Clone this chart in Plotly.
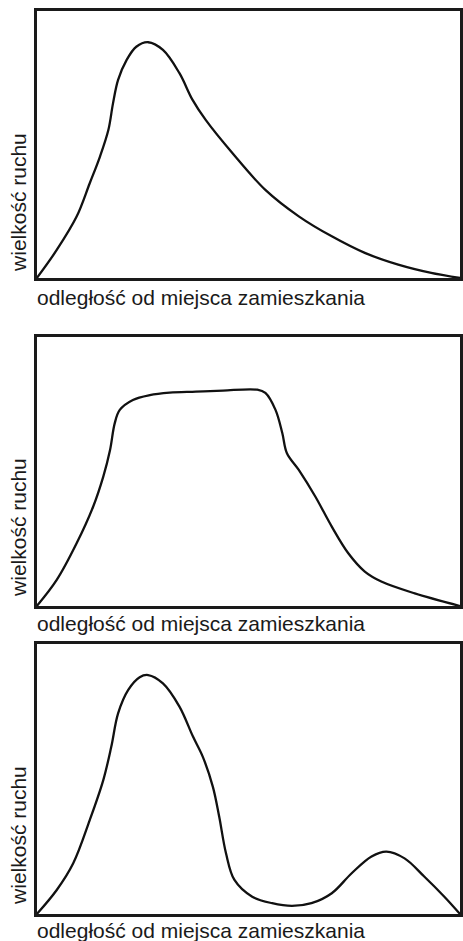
import plotly.graph_objects as go

# Panel 1: single peak with long tail
x1 = [0, 4.7, 9.4, 12.5, 14.9, 16.9, 18.0, 19.2, 21.2, 23.5, 26.3, 29.8, 33.7, 36.8, 39.9, 46.2, 54.0, 61.9, 69.7, 77.5, 85.4, 93.2, 100]
y1 = [0, 10.5, 23.0, 35.5, 45.4, 55.4, 65.4, 74.2, 81.6, 86.6, 88.3, 85.4, 76.7, 66.7, 59.2, 46.8, 33.0, 23.1, 15.6, 9.4, 5.0, 1.9, 0]

# Panel 2: plateau
x2 = [0, 4.7, 9.4, 13.3, 15.7, 17.3, 18.4, 19.6, 22.7, 26.7, 31.4, 37.6, 44.0, 52.1, 54.0, 56.4, 58.0, 59.1, 61.9, 65.8, 69.7, 73.6, 77.5, 81.4, 89.3, 100]
y2 = [0, 9.7, 23.3, 36.9, 48.1, 58.0, 67.9, 72.9, 76.6, 78.4, 79.3, 79.7, 80.1, 80.4, 79.2, 72.9, 64.3, 56.8, 50.6, 40.7, 29.5, 19.6, 12.8, 9.1, 4.7, 0]

# Panel 3: two peaks
x3 = [0, 4.7, 8.6, 12.5, 15.7, 17.6, 19.2, 21.6, 24.3, 26.3, 29.8, 33.7, 36.9, 39.2, 41.6, 43.1, 44.7, 46.7, 50.9, 55.6, 60.3, 64.9, 69.7, 74.4, 79.1, 82.6, 86.9, 91.6, 96.3, 100]
y3 = [0, 8.9, 18.8, 34.8, 49.6, 62.0, 74.3, 83.0, 87.7, 88.5, 85.4, 76.8, 65.7, 58.3, 47.1, 36.0, 22.5, 12.6, 6.4, 4.0, 3.0, 4.0, 7.7, 15.1, 21.3, 23.1, 20.6, 13.8, 6.4, 0]

x_title = "odległość od miejsca zamieszkania"
y_title = "wielkość ruchu"

W, H = 463, 941
panels = [
    (x1, y1, 11, 278, 202, 297),
    (x2, y2, 337, 606, 527, 623),
    (x3, y3, 644, 914, 835, 930),
]

fig = go.Figure()
annotations = []
for i, (xs, ys, top, bottom, ylab_c, xlab_c) in enumerate(panels, start=1):
    xa = "x" if i == 1 else f"x{i}"
    ya = "y" if i == 1 else f"y{i}"
    fig.add_trace(go.Scatter(
        x=xs, y=ys, mode="lines", xaxis=xa, yaxis=ya,
        line=dict(color="#111111", width=2.3, shape="spline", smoothing=1.0),
        hoverinfo="skip", showlegend=False, cliponaxis=True,
    ))
    axis_common = dict(showgrid=False, zeroline=False, showticklabels=False, ticks="",
                       showline=True, mirror=True, linecolor="#1a1a1a", linewidth=2.6)
    fig.update_layout(**{
        ("xaxis" if i == 1 else f"xaxis{i}"): dict(domain=[37 / W, 462 / W], range=[0, 100],
                                                   anchor=ya, **axis_common),
        ("yaxis" if i == 1 else f"yaxis{i}"): dict(domain=[1 - bottom / H, 1 - top / H], range=[0, 100],
                                                   anchor=xa, **axis_common),
    })
    annotations.append(dict(text=x_title, xref="paper", yref="paper", x=35 / W, y=1 - xlab_c / H,
                            xanchor="left", yanchor="middle", showarrow=False,
                            font=dict(family="Liberation Sans, Arial", size=21, color="#1a1a1a")))
    annotations.append(dict(text=y_title, xref="paper", yref="paper", x=18 / W, y=1 - ylab_c / H,
                            xanchor="center", yanchor="middle", showarrow=False, textangle=-90,
                            font=dict(family="Liberation Sans, Arial", size=21, color="#1a1a1a")))

fig.update_layout(width=W, height=H, margin=dict(l=0, r=0, t=0, b=0),
                  paper_bgcolor="white", plot_bgcolor="white", annotations=annotations)
fig.write_html("out.html", config={"displayModeBar": False},
               post_script="document.body.style.margin='0';document.body.style.overflow='hidden';")
